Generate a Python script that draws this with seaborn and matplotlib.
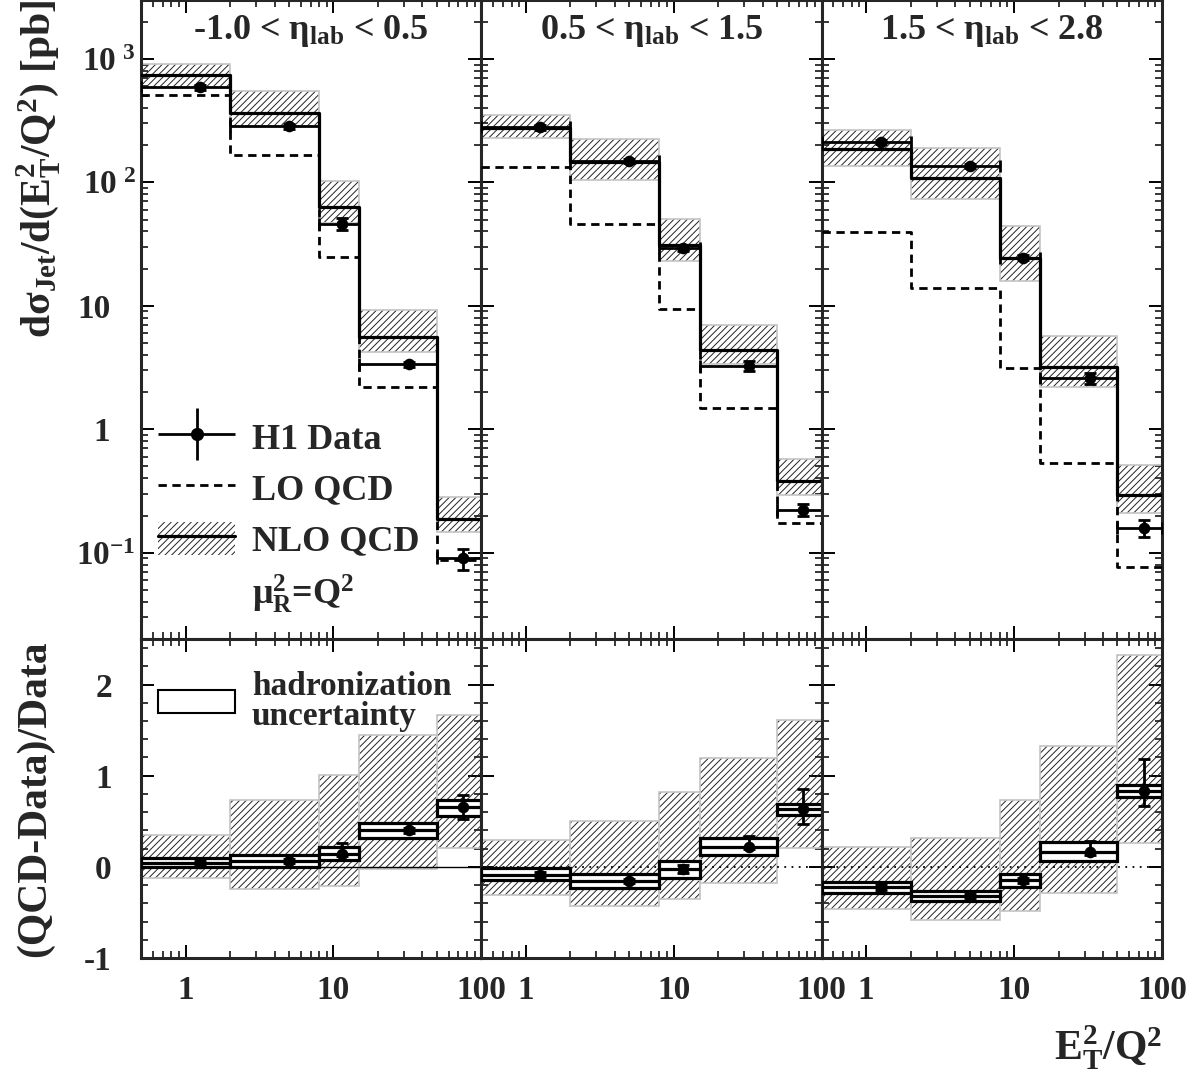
import numpy as np
import matplotlib
matplotlib.use("Agg")
import matplotlib.pyplot as plt
import seaborn as sns
from matplotlib.patches import Patch
from matplotlib.lines import Line2D
from matplotlib.container import ErrorbarContainer
from matplotlib.legend_handler import HandlerErrorbar
from matplotlib.transforms import ScaledTranslation
from matplotlib.ticker import LogLocator, MultipleLocator, FixedLocator, NullFormatter

sns.set_style("ticks")
plt.rcParams["font.family"] = ["Liberation Serif", "DejaVu Serif"]
plt.rcParams["font.weight"] = "bold"
plt.rcParams["mathtext.fontset"] = "custom"
plt.rcParams["mathtext.rm"] = "Liberation Serif:bold"
plt.rcParams["mathtext.it"] = "Liberation Serif:bold"
plt.rcParams["mathtext.bf"] = "Liberation Serif:bold"
plt.rcParams["mathtext.default"] = "rm"
plt.rcParams["axes.unicode_minus"] = False
plt.rcParams["hatch.linewidth"] = 0.7

# ------ DATA ------ #
edges = [0.5, 2, 8, 15, 50, 100]
centers = [1.25, 5, 11.5, 32.5, 75]
titles = ["-1.0 < $\\eta_{lab}$ < 0.5", "0.5 < $\\eta_{lab}$ < 1.5", "1.5 < $\\eta_{lab}$ < 2.8"]

# cross sections [pb], one list per eta range
h1_data = [[590, 285, 46, 3.35, 0.090],
           [279, 150, 29.2, 3.27, 0.222],
           [212, 135, 24.5, 2.59, 0.160]]
h1_err = [[25, 12, 5, 0.15, 0.018],
          [12, 6, 1.5, 0.3, 0.025],
          [8, 5, 1.2, 0.25, 0.025]]
nlo = [[741, 363, 63.7, 5.64, 0.187],
       [275, 145, 31, 4.36, 0.378],
       [185, 109, 24.3, 3.18, 0.296]]
nlo_low = [[595, 288, 46.7, 4.2, 0.147],
           [227, 105, 22.9, 3.35, 0.296],
           [136, 73, 16, 2.22, 0.209]]
nlo_high = [[910, 547, 103, 9.2, 0.282],
            [353, 224, 50.8, 6.95, 0.574],
            [264, 189, 44.3, 5.74, 0.513]]
lo = [[514, 167, 24.8, 2.19, 0.0867],
      [132, 45.7, 9.5, 1.49, 0.173],
      [39.9, 13.9, 3.13, 0.532, 0.0767]]

# (QCD-Data)/Data
ratio = [[0.044, 0.061, 0.146, 0.40, 0.653],
         [-0.084, -0.157, -0.022, 0.222, 0.635],
         [-0.219, -0.322, -0.147, 0.164, 0.828]]
ratio_err_up = [[0.02, 0.02, 0.12, 0.03, 0.13],
                [0.03, 0.02, 0.04, 0.12, 0.22],
                [0.03, 0.02, 0.03, 0.12, 0.35]]
ratio_err_dn = [[0.02, 0.02, 0.03, 0.03, 0.13],
                [0.03, 0.02, 0.04, 0.03, 0.16],
                [0.03, 0.02, 0.03, 0.03, 0.16]]
had_low = [[0.0, 0.0, 0.08, 0.318, 0.562],
           [-0.147, -0.234, -0.12, 0.127, 0.573],
           [-0.285, -0.377, -0.219, 0.061, 0.767]]
had_high = [[0.094, 0.131, 0.215, 0.482, 0.737],
            [-0.015, -0.073, 0.069, 0.318, 0.693],
            [-0.168, -0.26, -0.073, 0.27, 0.894]]
scale_low = [[-0.12, -0.24, -0.205, -0.02, 0.208],
             [-0.314, -0.431, -0.358, -0.175, 0.208],
             [-0.46, -0.585, -0.479, -0.285, 0.263]]
scale_high = [[0.346, 0.737, 1.01, 1.449, 1.668],
              [0.299, 0.5, 0.821, 1.194, 1.613],
              [0.219, 0.318, 0.73, 1.321, 2.325]]

ytick_top = [0.1, 1, 10, 100, 1000]
ytick_top_labels = ["$10^{-1}$", "1", "10", "$10^{\\ 2}$", "$10^{\\ 3}$"]

# ------ HELPERS ------ #
left = np.array(edges[:-1])
width = np.diff(edges)
xerr = [np.array(centers) - left, np.array(edges[1:]) - np.array(centers)]
FS_TICK = 24
FS_TITLE = 26
FS_LEG = 26
FS_LEG2 = 24
FS_LABEL = 30
HATCH = "/////"
BAND_EDGE = "#c4c4c4"
# labels without exponent sit left of the exponent column (pixels)
label_shift = [0, -25, -25, 0, 0]


def style_axis(ax):
    for s in ax.spines.values():
        s.set_linewidth(2.2)
    ax.tick_params(which="both", direction="in", top=True, right=True,
                   labelsize=FS_TICK, color="k")
    ax.tick_params(which="major", length=9.5, width=1.4)
    ax.tick_params(which="minor", length=5, width=1.1)
    ax.set_xscale("log")
    ax.set_xlim(0.5, 100)
    ax.xaxis.set_major_locator(FixedLocator([1, 10, 100]))
    ax.xaxis.set_minor_locator(LogLocator(base=10, subs=np.arange(2, 10)))
    ax.xaxis.set_minor_formatter(NullFormatter())


def step(ax, vals, **kw):
    sns.lineplot(x=edges, y=list(vals) + [vals[-1]], drawstyle="steps-post",
                 ax=ax, color="k", legend=False, estimator=None, sort=False, **kw)


def band(ax, lo_v, hi_v):
    lo_v = np.array(lo_v)
    hi_v = np.array(hi_v)
    ax.bar(left, hi_v - lo_v, width=width, bottom=lo_v, align="edge",
           facecolor="none", edgecolor="#222222", hatch=HATCH, linewidth=0, zorder=1)
    ax.bar(left, hi_v - lo_v, width=width, bottom=lo_v, align="edge",
           fill=False, edgecolor=BAND_EDGE, linewidth=1.2, zorder=1.1)


# ------ FIGURE ------ #
fig = plt.figure(figsize=(11.86, 10.72), dpi=100)
x0, wcol = 141 / 1186, 340.33 / 1186
top_axes, bot_axes = [], []
for i in range(3):
    at = fig.add_axes([x0 + i * wcol, 1 - 639 / 1072, wcol, 639 / 1072])
    ab = fig.add_axes([x0 + i * wcol, 1 - 958 / 1072, wcol, 319 / 1072])
    top_axes.append(at)
    bot_axes.append(ab)

for i in range(3):
    ax = top_axes[i]
    style_axis(ax)
    ax.set_yscale("log")
    ax.set_ylim(0.02, 3000)
    ax.yaxis.set_major_locator(FixedLocator(ytick_top))
    ax.yaxis.set_minor_locator(LogLocator(base=10, subs=np.arange(2, 10), numticks=20))
    ax.yaxis.set_minor_formatter(NullFormatter())
    ax.set_xticklabels([])
    if i == 0:
        ax.set_yticklabels(ytick_top_labels)
        ax.tick_params(axis="y", pad=4)
        for tick, dx in zip(ax.yaxis.get_major_ticks(), label_shift):
            tick.label1.set_transform(tick.label1.get_transform()
                                      + ScaledTranslation(dx / 100, 0, fig.dpi_scale_trans))
    else:
        ax.set_yticklabels([])

    band(ax, nlo_low[i], nlo_high[i])
    step(ax, nlo[i], linewidth=2.3, zorder=3)
    step(ax, lo[i], linewidth=2.0, linestyle=(0, (3, 2)), zorder=3)
    ax.errorbar(centers, h1_data[i], yerr=h1_err[i], xerr=xerr, fmt="none",
                ecolor="k", elinewidth=2.0, capsize=4, capthick=2.0, zorder=4)
    sns.scatterplot(x=centers, y=h1_data[i], ax=ax, color="k", s=70,
                    edgecolor="k", linewidth=0, zorder=5, legend=False)
    ax.text(0.5, 0.952, titles[i], transform=ax.transAxes, ha="center", va="center",
            fontsize=FS_TITLE, fontweight="bold")

    ax = bot_axes[i]
    style_axis(ax)
    ax.set_ylim(-1, 2.5)
    ax.yaxis.set_major_locator(FixedLocator([-1, 0, 1, 2]))
    ax.yaxis.set_minor_locator(MultipleLocator(0.2))
    ax.set_xticks([1, 10, 100])
    ax.set_xticklabels(["1", "10", "100"])
    ax.tick_params(axis="x", pad=12)
    if i == 0:
        ax.set_yticklabels(["-1", "0", "1", "2"])
        ax.tick_params(axis="y", pad=21)
        ax.axhline(0, color="k", linewidth=1.0, zorder=2)
    else:
        ax.set_yticklabels([])
        ax.axhline(0, color="k", linewidth=1.3, linestyle=(0, (1, 3)), zorder=2)

    band(ax, scale_low[i], scale_high[i])
    hl = np.array(had_low[i])
    hh = np.array(had_high[i])
    ax.bar(left, hh - hl, width=width, bottom=hl, align="edge",
           facecolor="white", edgecolor="k", linewidth=2.3, zorder=3)
    ax.hlines(ratio[i], left, edges[1:], color="k", linewidth=2.3, zorder=3.5)
    ax.errorbar(centers, ratio[i], yerr=[ratio_err_dn[i], ratio_err_up[i]], fmt="none",
                ecolor="k", elinewidth=2.0, capsize=4, capthick=2.0, zorder=4)
    sns.scatterplot(x=centers, y=ratio[i], ax=ax, color="k", s=70,
                    edgecolor="k", linewidth=0, zorder=5, legend=False)

# ------ LABELS ------ #
top_axes[0].set_ylabel("d$\\sigma_{Jet}$/d($E_T^2$/$Q^2$) [pb]", fontsize=FS_LABEL,
                       fontweight="bold", loc="top")
top_axes[0].yaxis.set_label_coords(-0.232, 1.0)
bot_axes[0].set_ylabel("(QCD-Data)/Data", fontsize=FS_LABEL, fontweight="bold")
bot_axes[0].yaxis.set_label_coords(-0.255, 0.5)
bot_axes[2].set_xlabel("$E_T^2$/$Q^2$", fontsize=FS_LABEL, fontweight="bold",
                       loc="right", labelpad=13)

# ------ LEGENDS ------ #
ax = top_axes[0]
eb = ax.errorbar([], [], xerr=[], yerr=[], fmt="none", ecolor="k",
                 elinewidth=2.0, capsize=4, capthick=2.0)
dot = Line2D([], [], marker="o", color="k", linestyle="none", markersize=8.5)
lo_h = Line2D([], [], color="k", linewidth=2.0, linestyle=(0, (3, 2)))
nlo_h = (Patch(facecolor="none", edgecolor="#222222", hatch=HATCH, linewidth=0),
         Line2D([], [], color="k", linewidth=2.3))
mu_h = Line2D([], [], color="none")
ax.legend([(eb, dot), lo_h, nlo_h, mu_h],
          ["H1 Data", "LO QCD", "NLO QCD", "$\\mu_R^2$=$Q^2$"],
          loc="upper left", bbox_to_anchor=(0.05, 0.343), borderaxespad=0, borderpad=0,
          frameon=False, fontsize=FS_LEG, handlelength=2.14, handleheight=1.03,
          handletextpad=0.47, labelspacing=0.39,
          handler_map={ErrorbarContainer: HandlerErrorbar(xerr_size=1.06, yerr_size=0.72)})

ax = bot_axes[0]
ax.legend([Patch(facecolor="white", edgecolor="k", linewidth=1.5)],
          ["hadronization\nuncertainty"], loc="upper left", bbox_to_anchor=(0.05, 0.9),
          borderaxespad=0, borderpad=0, frameon=False, fontsize=FS_LEG2,
          handlelength=2.3, handleheight=0.67, handletextpad=0.52, labelspacing=0.2)
for t in ax.get_legend().get_texts():
    t.set_linespacing(0.95)

fig.savefig("out.png", dpi=100)
